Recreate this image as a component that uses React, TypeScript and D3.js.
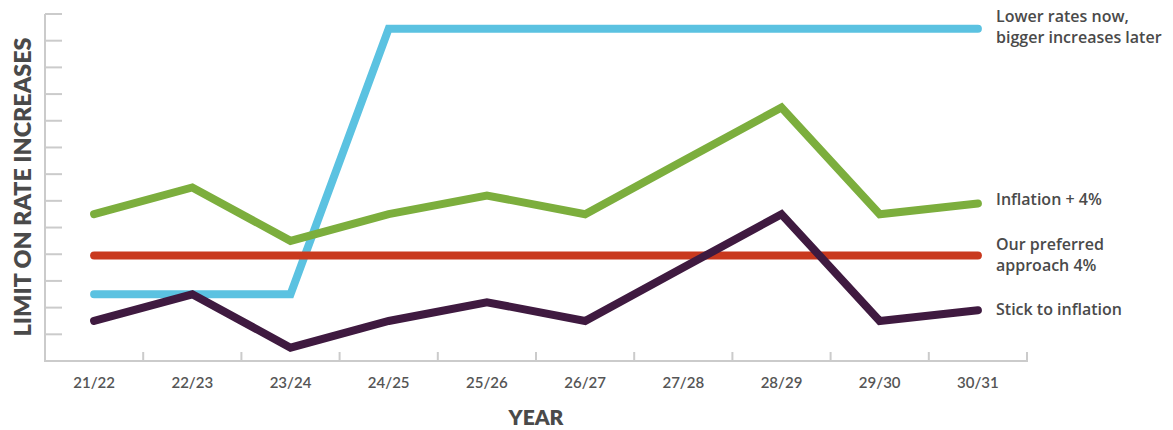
import React from "react";
import * as d3 from "d3";

const categories = ["21/22", "22/23", "23/24", "24/25", "25/26", "26/27", "27/28", "28/29", "29/30", "30/31"];
const lowerNowValues = [2.5, 2.5, 2.5, 12.45, 12.45, 12.45, 12.45, 12.45, 12.45, 12.45];
const inflationPlus4Values = [5.5, 6.5, 4.5, 5.5, 6.2, 5.5, 7.5, 9.5, 5.5, 5.9];
const preferredValues = [3.95, 3.95, 3.95, 3.95, 3.95, 3.95, 3.95, 3.95, 3.95, 3.95];
const stickValues = [1.5, 2.5, 0.5, 1.5, 2.2, 1.5, 3.5, 5.5, 1.5, 1.9];
const yTicks = d3.range(0, 14);

const seriesList = [
  { name: "lower", values: lowerNowValues, color: "#5bc2e1", label: ["Lower rates now,", "bigger increases later"], labelY: [22, 43] },
  { name: "infl4", values: inflationPlus4Values, color: "#7cae3d", label: ["Inflation + 4%"], labelY: [205] },
  { name: "pref", values: preferredValues, color: "#c9391e", label: ["Our preferred", "approach 4%"], labelY: [250, 271] },
  { name: "stick", values: stickValues, color: "#3f1a40", label: ["Stick to inflation"], labelY: [315] },
];

export default function App() {
  const W = 1173, H = 430;
  const x = d3.scaleBand<string>().domain(categories).range([45, 1027]).padding(0);
  const y = d3.scaleLinear().domain([0, 13]).range([361, 14]);
  const cx = (c: string) => (x(c) as number) + x.bandwidth() / 2;
  const line = d3.line<number>().x((_, i) => cx(categories[i])).y((v) => y(v));
  const axisColor = "#cbcbcb";
  const boundaries = categories.map((c) => x(c) as number).concat([x.range()[1]]);

  return (
    <svg width={W} height={H} style={{ position: "absolute", left: 0, top: 0, display: "block", background: "#fff" }}>
      {/* y axis */}
      <line x1={45} x2={45} y1={y(13)} y2={y(0)} stroke={axisColor} strokeWidth={2} />
      {yTicks.map((t) => (
        <line key={t} x1={45} x2={62} y1={y(t)} y2={y(t)} stroke={axisColor} strokeWidth={2} />
      ))}
      {/* x axis */}
      <line x1={44} x2={1028} y1={y(0)} y2={y(0)} stroke={axisColor} strokeWidth={2} />
      {boundaries.slice(1).map((b, i) => (
        <line key={i} x1={b} x2={b} y1={y(0) - 9} y2={y(0)} stroke={axisColor} strokeWidth={2} />
      ))}
      {categories.map((c) => (
        <text key={c} x={cx(c)} y={388} textAnchor="middle" fontFamily="Lato, 'Open Sans', sans-serif" fontWeight={600} fontSize={15} fill="#555">
          {c}
        </text>
      ))}
      <text x={536} y={425} textAnchor="middle" fontFamily="Lato, 'Open Sans', sans-serif" fontWeight={800} fontSize={21} fill="#4a4a4a">
        YEAR
      </text>
      <text
        transform={`translate(31,${(37 + 337) / 2}) rotate(-90)`}
        textAnchor="middle"
        fontFamily="Lato, 'Open Sans', sans-serif"
        fontWeight={800}
        fontSize={22}
        fill="#4a4a4a"
        textLength={299}
        lengthAdjust="spacingAndGlyphs"
      >
        LIMIT ON RATE INCREASES
      </text>
      {/* series */}
      {seriesList.map((s) => (
        <path key={s.name} d={line(s.values) || ""} fill="none" stroke={s.color} strokeWidth={8} strokeLinecap="round" strokeLinejoin="miter" />
      ))}
      {seriesList.map((s) =>
        s.label.map((l, i) => (
          <text key={s.name + i} x={996} y={s.labelY[i]} fontFamily="'Open Sans', sans-serif" fontWeight={600} fontSize={16} fill="#4a4a4a">
            {l}
          </text>
        ))
      )}
    </svg>
  );
}
